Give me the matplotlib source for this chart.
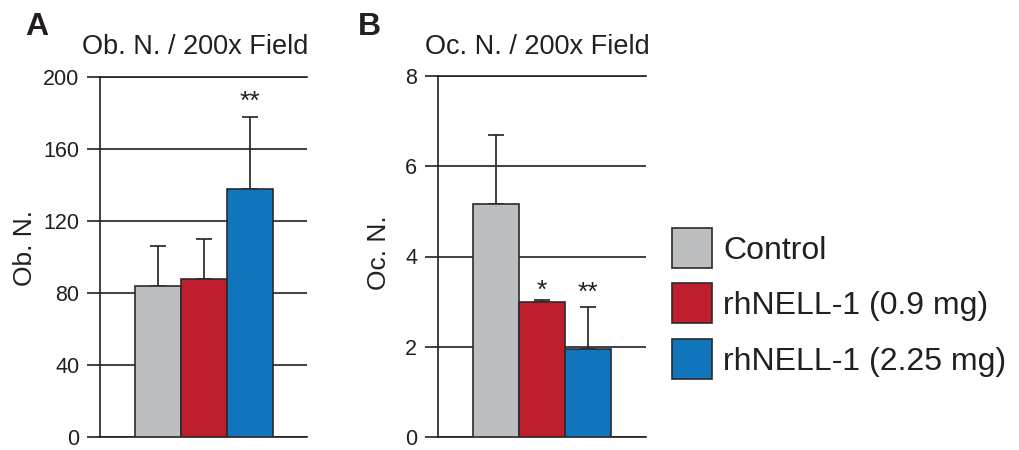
"""
Bone histomorphometry bars: osteoblast and osteoclast counts per 200x field.
"""

import matplotlib
matplotlib.use("Agg")
import matplotlib.pyplot as plt
from matplotlib.patches import Rectangle
import numpy as np

plt.rcParams["font.family"] = ["Liberation Sans", "DejaVu Sans"]

groups = ["Control", "rhNELL-1 (0.9 mg)", "rhNELL-1 (2.25 mg)"]
colors = ["#bcbec0", "#be1e2d", "#1075ba"]

# panel A: osteoblast number
ob_mean = [84, 88, 138]
ob_err = [22, 22, 40]
ob_stars = ["", "", "**"]
ob_ticks = [0, 40, 80, 120, 160, 200]

# panel B: osteoclast number
oc_mean = [5.17, 3.0, 1.94]
oc_err = [1.52, 0.04, 0.95]
oc_stars = ["", "*", "**"]
oc_ticks = [0, 2, 4, 6, 8]

W, H = 1019, 450
ink = "#231f20"


def px(x, y):
    # pixel position (top-left origin) -> figure fraction
    return x / W, 1 - y / H


def draw_panel(ax, means, errs, stars, ticks, ylabel, label_x, label_y, star_offs):
    x = np.arange(len(means))
    ax.bar(x, means, width=1.0, color=colors, edgecolor="#2b2b2b",
           linewidth=1.2, zorder=3)
    ax.errorbar(x, means, yerr=[np.zeros(len(errs)), errs], fmt="none",
                ecolor=ink, elinewidth=1.2, capsize=6, capthick=1.2, zorder=2)
    for xi, m, e, s, off in zip(x, means, errs, stars, star_offs):
        if s:
            ax.annotate(s, (xi, m + e), xytext=(0, off), textcoords="offset points",
                        ha="center", va="bottom", fontsize=19, color=ink)

    ax.set_xlim(-1.26, 3.25)
    ax.set_ylim(ticks[0], ticks[-1])
    ax.set_yticks(ticks)
    ax.set_xticks([])
    ax.yaxis.grid(True, color=ink, linewidth=1.2)
    ax.set_axisbelow(True)
    for side in ["top", "bottom", "left"]:
        ax.spines[side].set_color(ink)
        ax.spines[side].set_linewidth(1.2)
    ax.spines["right"].set_visible(False)
    ax.tick_params(axis="y", direction="out", length=9.4, width=1.2, color=ink,
                   pad=5.5, labelsize=15.5, labelcolor=ink)
    ax.set_ylabel(ylabel, fontsize=19, color=ink)
    ax.yaxis.set_label_coords(label_x, label_y)


fig = plt.figure(figsize=(W / 100, H / 100), dpi=100)

ax_a = fig.add_axes([100 / W, 13 / H, 207 / W, 360 / H])
draw_panel(ax_a, ob_mean, ob_err, ob_stars, ob_ticks, "Ob. N.", -0.305, 0.525,
           [2, 2, 2])

ax_b = fig.add_axes([437.7 / W, 13 / H, 208.3 / W, 361 / H])
draw_panel(ax_b, oc_mean, oc_err, oc_stars, oc_ticks, "Oc. N.", -0.225, 0.511,
           [-2, -2, 1])

# panel letters and titles
fig.text(*px(25, 35), "A", fontsize=23, fontweight="bold", color=ink, va="baseline")
fig.text(*px(358, 35), "B", fontsize=23, fontweight="bold", color=ink, va="baseline")
fig.text(*px(82, 54), "Ob. N. / 200x Field", fontsize=19.5, color=ink, va="baseline")
fig.text(*px(425, 54), "Oc. N. / 200x Field", fontsize=19.5, color=ink, va="baseline")

# legend
for i, (g, c) in enumerate(zip(groups, colors)):
    cy = 248 + i * 55.3
    x0, y0 = px(672, cy + 20)
    fig.add_artist(Rectangle((x0, y0), 40 / W, 40 / H, transform=fig.transFigure,
                             facecolor=c, edgecolor="#2b2b2b", linewidth=1.2))
    fig.text(*px(723, cy + 11), g, fontsize=23, color=ink, va="baseline")

fig.savefig("out.png", dpi=100)
